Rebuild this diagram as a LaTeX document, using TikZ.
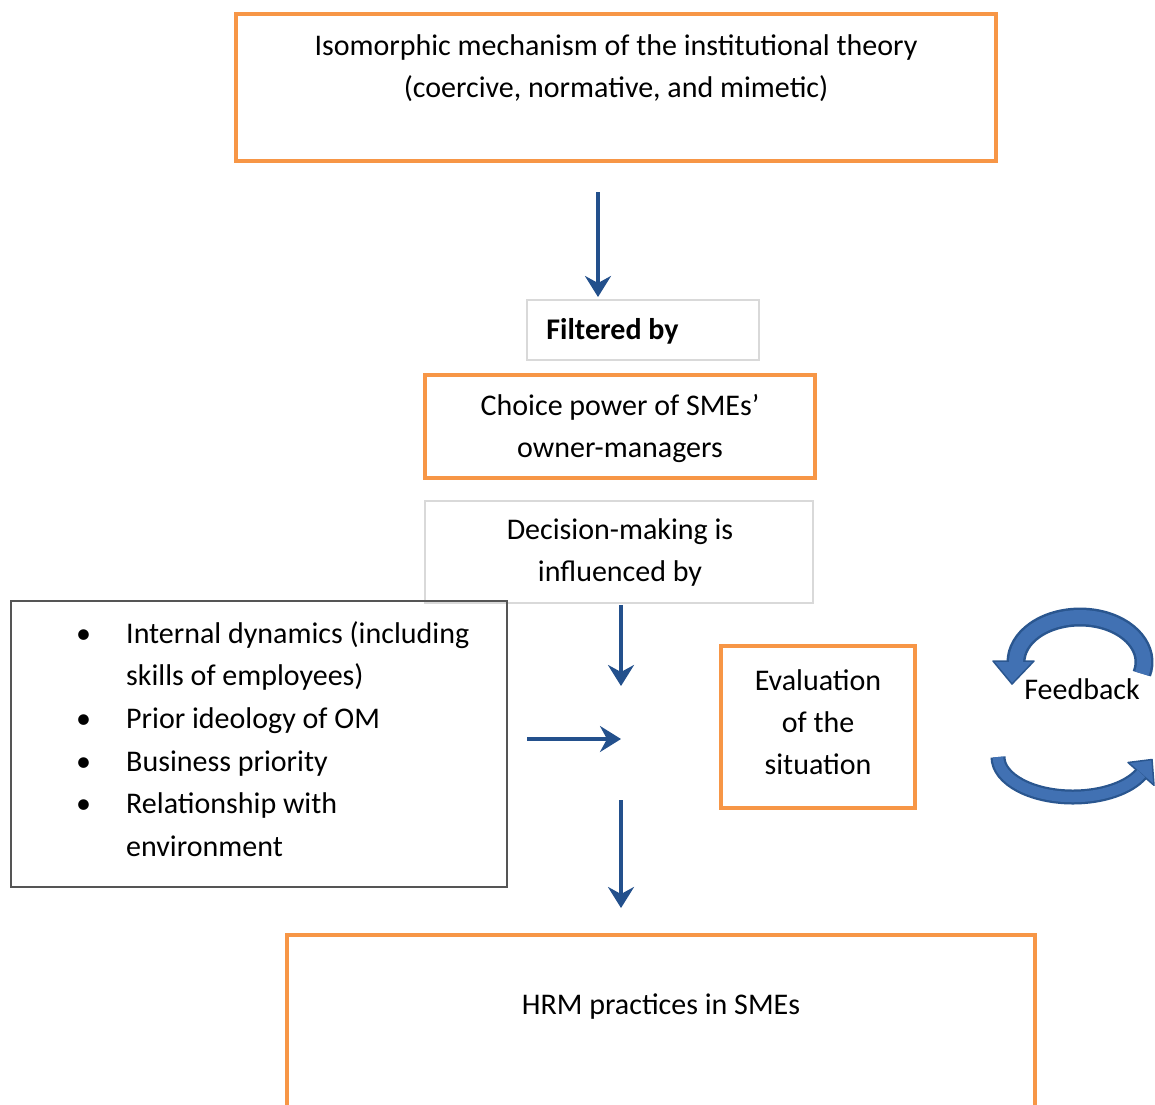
\documentclass[tikz,border=0pt]{standalone}
\usepackage{fontspec}
\setmainfont{Carlito}
\usetikzlibrary{arrows.meta}

\definecolor{boxorange}{HTML}{F79646}
\definecolor{flowblue}{HTML}{23508C}
\definecolor{fbfill}{HTML}{4171B3}
\definecolor{fbedge}{HTML}{2A568F}
\definecolor{paleedge}{HTML}{D9D9D9}
\definecolor{listedge}{HTML}{555555}

\begin{document}
\begin{tikzpicture}[x=1pt,y=1pt,
  txt/.style={font=\fontsize{30}{42}\selectfont, align=center, inner sep=0pt},
  boldtxt/.style={txt, font=\fontsize{30}{42}\selectfont\bfseries},
  listline/.style={font=\fontsize{30}{42}\selectfont, inner sep=0pt, anchor=base west},
  orangebox/.style={rectangle, draw=boxorange, line width=3.5pt, inner sep=0pt},
  palebox/.style={rectangle, draw=paleedge, line width=1.5pt, inner sep=0pt},
  listbox/.style={rectangle, draw=listedge, line width=2pt, inner sep=0pt},
  flow/.style={draw=flowblue, line width=3.5pt, -{Stealth[length=21pt,width=26pt,inset=7pt]}}
]
\useasboundingbox (0,0) rectangle (1155,-1104);
\clip (0,0) rectangle (1155,-1104);

% institutional theory box
\node[orangebox, minimum width=760pt, minimum height=147pt] (theory) at (616,-87.5) {};
\node[txt] (theorytext) at (616,-68) {Isomorphic mechanism of the institutional theory\\(coercive, normative, and mimetic)};

% filter label
\node[palebox, minimum width=232pt, minimum height=60pt] (filter) at (643,-330) {};
\node[boldtxt] (filtertext) at (612.5,-331.5) {Filtered by};

% choice power box
\node[orangebox, minimum width=390pt, minimum height=103pt] (choice) at (620,-426.5) {};
\node[txt] (choicetext) at (620,-428.5) {Choice power of SMEs’\\owner-managers};

% decision-making label
\node[palebox, minimum width=388pt, minimum height=102pt] (decision) at (619,-552) {};
\node[txt] (decisiontext) at (620,-552.5) {Decision-making is\\influenced by};

% list of influences
\node[listbox, minimum width=496pt, minimum height=286pt] (factors) at (259,-744) {};
\node[listline] (b1) at (76,-643) {•};
\node[listline] (l1) at (126,-643) {Internal dynamics (including};
\node[listline] (l2) at (126,-685) {skills of employees)};
\node[listline] (b3) at (76,-728) {•};
\node[listline] (l3) at (126,-728) {Prior ideology of OM};
\node[listline] (b4) at (76,-771) {•};
\node[listline] (l4) at (126,-771) {Business priority};
\node[listline] (b5) at (76,-813) {•};
\node[listline] (l5) at (126,-813) {Relationship with};
\node[listline] (l6) at (126,-856) {environment};

% evaluation box
\node[orangebox, minimum width=194pt, minimum height=162pt] (evaluation) at (818,-727) {};
\node[txt] (evaltext) at (818,-722) {Evaluation\\of the\\situation};

% HRM practices box
\node[orangebox, minimum width=748pt, minimum height=220pt] (hrm) at (661,-1045) {};
\node[txt] (hrmtext) at (661,-1007) {HRM practices in SMEs};

% connector end points
\coordinate (a1s) at (598,-192);
\coordinate (a1e) at (598,-297);
\coordinate (a2s) at (621,-605);
\coordinate (a2e) at (621,-686);
\coordinate (a3s) at (527,-739);
\coordinate (a3e) at (621,-739);
\coordinate (a4s) at (621,-800);
\coordinate (a4e) at (621,-908);

\draw[flow] (a1s) -- (a1e);
\draw[flow] (a2s) -- (a2e);
\draw[flow] (a3s) -- (a3e);
\draw[flow] (a4s) -- (a4e);

% feedback loop: upper curved arrow
\draw[fbedge, line width=19pt] (1141.82,-673.65) arc[start angle=-15, end angle=180, x radius=64, y radius=45];
\filldraw[fill=fbfill, draw=fbedge, line width=1.5pt, line join=round] (993,-661) -- (1034,-661) -- (1012,-684) -- cycle;
\draw[fbfill, line width=14pt] (1141.82,-673.65) arc[start angle=-15, end angle=180.5, x radius=64, y radius=45];

% feedback loop: lower curved arrow
\draw[fbedge, line width=15pt] (998,-757) arc[start angle=180, end angle=335, x radius=75, y radius=40];
\filldraw[fill=fbfill, draw=fbedge, line width=1.5pt, line join=round] (1154,-785.3) -- (1128.0,-762.5) -- (1152.0,-759.5) -- cycle;
\draw[fbfill, line width=10.5pt] (998,-757) arc[start angle=180, end angle=335.5, x radius=75, y radius=40];

\node[txt] (feedback) at (1082,-689) {Feedback};
\end{tikzpicture}
\end{document}
